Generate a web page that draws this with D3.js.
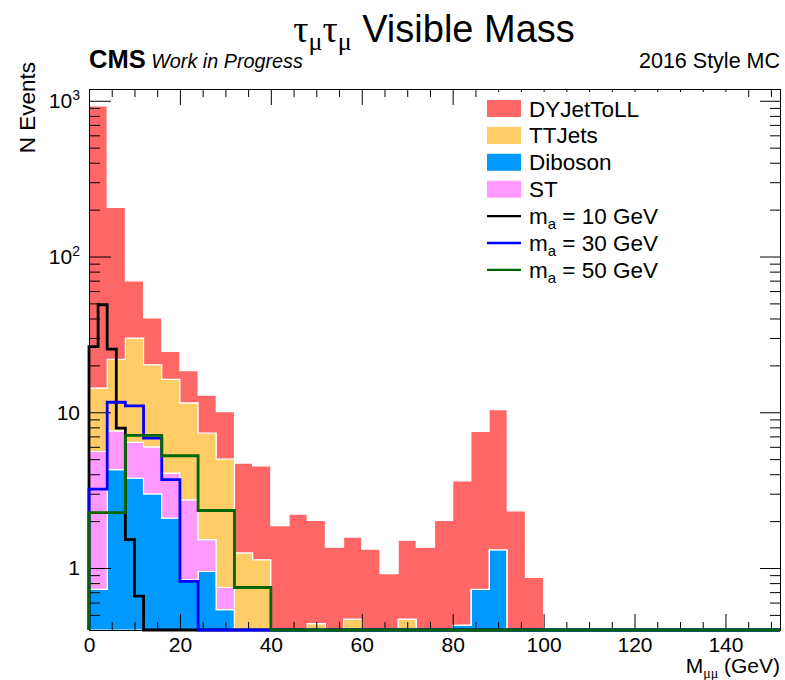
<!DOCTYPE html>
<html>
<head>
<meta charset="utf-8">
<script src="https://cdn.jsdelivr.net/npm/d3@7"></script>
<style>
  body { margin: 0; background: #fff; }
  svg { font-family: "Liberation Sans", Arial, Helvetica, sans-serif; }
</style>
</head>
<body>
<svg id="chart" width="785" height="680"></svg>
<script>
// background bins, 4 GeV wide (low edges)
var binLow  = [0,4,8,12,16,20,24,28,32,36,40,44,48,52,56,60,64,68,72,76,80,84,88,92,96];
var diboson = [0.73,4.28,3.78,2.99,2.09,0.84,0.95,0.54,0,0,0,0,0,0,0,0,0,0,0,0,0.43,0.73,1.31,0,0];
var st      = [4.87,3.32,2.62,3.0,1.98,1.9,0.57,0.21,0,0,0,0,0,0,0,0,0,0,0,0,0,0,0,0,0];
var ttjets  = [8.7,14.3,23.5,14.2,12.2,8.76,5.84,4.26,1.25,1.13,0,0,0.44,0,0.47,0,0,0.47,0,0,0,0,0,0,0];
var dyjets  = [912,185,39.9,20.2,8.3,7.0,5.54,5.09,3.47,3.40,1.87,2.22,1.58,1.36,1.11,1.32,0.92,1.04,1.36,2.02,3.2,6.8,9.09,2.33,0.87];

// signal samples (own binning)
var sig10Low = [0,2,4,6,8,10];
var sig10    = [26.4,49,25.4,7.9,1.52,0.66];
var sig30Low = [0,4,8,12,16,20];
var sig30    = [3.21,11.6,11.0,6.83,3.69,0.82];
var sig50Low = [0,8,16,24,32];
var sig50    = [2.27,7.10,5.26,2.34,0.75];

var stackKeys = ["Diboson","ST","TTJets","DYJetToLL"];
var legendNames = ["DYJetToLL","TTJets","Diboson","ST"];
var signalMasses = ["10","30","50"];
var xMajor = [0,20,40,60,80,100,120,140];
var yMajor = [1,10,100,1000];

var colors = {DYJetToLL:"#ff6666", TTJets:"#ffcc66", Diboson:"#0099ff", ST:"#ff99ff"};
var sigColors = ["#000000","#0000ff","#006600"];

var svg = d3.select("#chart");
var xMin = 0, xMax = 152, yMin = 0.4, yMax = 1190;
var padL = 89, padR = 780, padT = 89, padB = 630;

var x = d3.scaleLinear().domain([xMin, xMax]).range([padL, padR]);
var y = d3.scaleLog().domain([yMin, yMax]).range([padB, padT]);
function yc(v) { return y(Math.max(v, yMin)); }

// stacked backgrounds
var rows = binLow.map(function(lo, i) {
  return {lo: lo, Diboson: diboson[i], ST: st[i], TTJets: ttjets[i], DYJetToLL: dyjets[i]};
});
var stacked = d3.stack().keys(stackKeys)(rows);

svg.append("defs").append("clipPath").attr("id", "frameClip")
  .append("rect").attr("x", padL).attr("y", padT).attr("width", padR-padL).attr("height", padB-padT);

var area = d3.area()
  .x(function(d) { return x(d[0]); })
  .y0(function(d) { return yc(d[1]); })
  .y1(function(d) { return yc(d[2]); });

var gStack = svg.append("g").attr("clip-path", "url(#frameClip)");
stacked.forEach(function(layer) {
  var pts = [];
  layer.forEach(function(d, i) {
    var lo = rows[i].lo;
    pts.push([lo, d[0], d[1]]);
    pts.push([lo + 4, d[0], d[1]]);
  });
  gStack.append("path")
    .attr("d", area(pts))
    .attr("fill", colors[layer.key])
    .attr("stroke", "#fff")
    .attr("stroke-width", 1.2);
});

// frame + axes
function styleAxis(g) {
  g.select(".domain").attr("stroke", "#000");
  g.selectAll(".tick line").attr("stroke", "#000").attr("stroke-width", 1);
}
var minorX = [];
for (var t = 5; t < xMax; t += 5) if (t % 20 !== 0) minorX.push(t);
var minorY = [];
[0.1,1,10,100].forEach(function(dec) {
  for (var k = 2; k <= 9; k++) { var v = dec*k; if (v >= yMin && v < yMax) minorY.push(v); }
});

var gx = svg.append("g").attr("transform", "translate(0," + padB + ")")
  .call(d3.axisBottom(x).tickValues(xMajor).tickSizeInner(-16).tickSizeOuter(0).tickPadding(7).tickFormat(d3.format("d")));
gx.selectAll("text").attr("font-size", 21).attr("fill", "#000").attr("font-family", "Liberation Sans, Arial, sans-serif");
styleAxis(gx);
styleAxis(svg.append("g").attr("transform", "translate(0," + padB + ")")
  .call(d3.axisBottom(x).tickValues(minorX).tickSize(-8).tickFormat("")));

styleAxis(svg.append("g").attr("transform", "translate(0," + padT + ")")
  .call(d3.axisTop(x).tickValues(xMajor).tickSizeInner(-16).tickSizeOuter(0).tickFormat("")));
styleAxis(svg.append("g").attr("transform", "translate(0," + padT + ")")
  .call(d3.axisTop(x).tickValues(minorX).tickSize(-8).tickFormat("")));

var gy = svg.append("g").attr("transform", "translate(" + padL + ",0)")
  .call(d3.axisLeft(y).tickValues(yMajor).tickSizeInner(-22).tickSizeOuter(0).tickPadding(9).tickFormat(""));
styleAxis(gy);
gy.selectAll(".tick text").each(function(d) {
  var txt = d3.select(this).attr("font-size", 21).attr("fill", "#000")
    .attr("font-family", "Liberation Sans, Arial, sans-serif");
  var e = Math.round(Math.log10(d));
  if (e <= 1) { txt.text(d3.format("d")(d)); }
  else {
    txt.append("tspan").text("10");
    txt.append("tspan").attr("font-size", 14).attr("dy", "-0.55em").text(e);
  }
});
styleAxis(svg.append("g").attr("transform", "translate(" + padL + ",0)")
  .call(d3.axisLeft(y).tickValues(minorY).tickSize(-11).tickFormat("")));

styleAxis(svg.append("g").attr("transform", "translate(" + padR + ",0)")
  .call(d3.axisRight(y).tickValues(yMajor).tickSizeInner(-20).tickSizeOuter(0).tickFormat("")));
styleAxis(svg.append("g").attr("transform", "translate(" + padR + ",0)")
  .call(d3.axisRight(y).tickValues(minorY).tickSize(-10).tickFormat("")));

// signal lines
var line = d3.line().x(function(d) { return x(d[0]); }).y(function(d) { return yc(d[1]); });
function stepPoints(lows, vals, w) {
  var pts = [[lows[0], 0]];
  lows.forEach(function(lo, i) { pts.push([lo, vals[i]]); pts.push([lo + w, vals[i]]); });
  pts.push([lows[lows.length-1] + w, 0]);
  pts.push([xMax, 0]);
  return pts;
}
var signals = [[sig10Low, sig10, 2], [sig30Low, sig30, 4], [sig50Low, sig50, 8]];
signals.forEach(function(s, i) {
  svg.append("path")
    .attr("d", line(stepPoints(s[0], s[1], s[2])))
    .attr("fill", "none")
    .attr("stroke", sigColors[i])
    .attr("stroke-width", 2.8);
});

// legend (white box hides the top ticks, like the TLegend fill)
var lg = svg.append("g").attr("font-size", 22.5);
lg.append("rect").attr("x", 478).attr("y", 92).attr("width", 268).attr("height", 190).attr("fill", "#fff");
var legY0 = 108.5, legDy = 26.9, boxX = 487, boxW = 34, boxH = 17, textX = 529;
legendNames.forEach(function(n, i) {
  var cy = legY0 + i*legDy;
  lg.append("rect").attr("x", boxX).attr("y", cy - boxH/2).attr("width", boxW).attr("height", boxH)
    .attr("fill", colors[n]);
  lg.append("text").attr("x", textX).attr("y", cy + 8).text(n);
});
signalMasses.forEach(function(m, i) {
  var cy = legY0 + (i + 4)*legDy;
  lg.append("line").attr("x1", boxX).attr("x2", boxX + boxW).attr("y1", cy).attr("y2", cy)
    .attr("stroke", sigColors[i]).attr("stroke-width", 2.4);
  var t = lg.append("text").attr("x", textX).attr("y", cy + 8);
  t.append("tspan").text("m");
  t.append("tspan").attr("font-size", 15).attr("dy", 5).text("a");
  t.append("tspan").attr("dy", -5).text(" = " + m + " GeV");
});

// titles and labels
var title = svg.append("text").attr("x", 434).attr("y", 42).attr("text-anchor", "middle").attr("font-size", 38);
title.append("tspan").attr("font-family", "Liberation Serif, serif").attr("font-size", 38).text("τ");
title.append("tspan").attr("font-family", "Liberation Serif, serif").attr("font-size", 26).attr("dy", 8).text("μ");
title.append("tspan").attr("font-family", "Liberation Serif, serif").attr("font-size", 38).attr("dy", -8).text("τ");
title.append("tspan").attr("font-family", "Liberation Serif, serif").attr("font-size", 26).attr("dy", 8).text("μ");
title.append("tspan").attr("dy", -8).text(" Visible Mass");

var cms = svg.append("text").attr("x", padL).attr("y", 68);
cms.append("tspan").attr("font-weight", "bold").attr("font-size", 25.5).text("CMS");
cms.append("tspan").attr("font-style", "italic").attr("font-size", 19.8).text(" Work in Progress");

svg.append("text").attr("x", padR).attr("y", 68).attr("text-anchor", "end").attr("font-size", 21.5)
  .text("2016 Style MC");

svg.append("text").attr("transform", "translate(35,62) rotate(-90)").attr("text-anchor", "end")
  .attr("font-size", 22.5).text("N Events");

var xl = svg.append("text").attr("x", padR).attr("y", 673).attr("text-anchor", "end").attr("font-size", 21);
xl.append("tspan").text("M");
xl.append("tspan").attr("font-family", "Liberation Serif, serif").attr("font-size", 14).attr("dy", 5).text("μμ");
xl.append("tspan").attr("dy", -5).text(" (GeV)");
</script>
</body>
</html>
